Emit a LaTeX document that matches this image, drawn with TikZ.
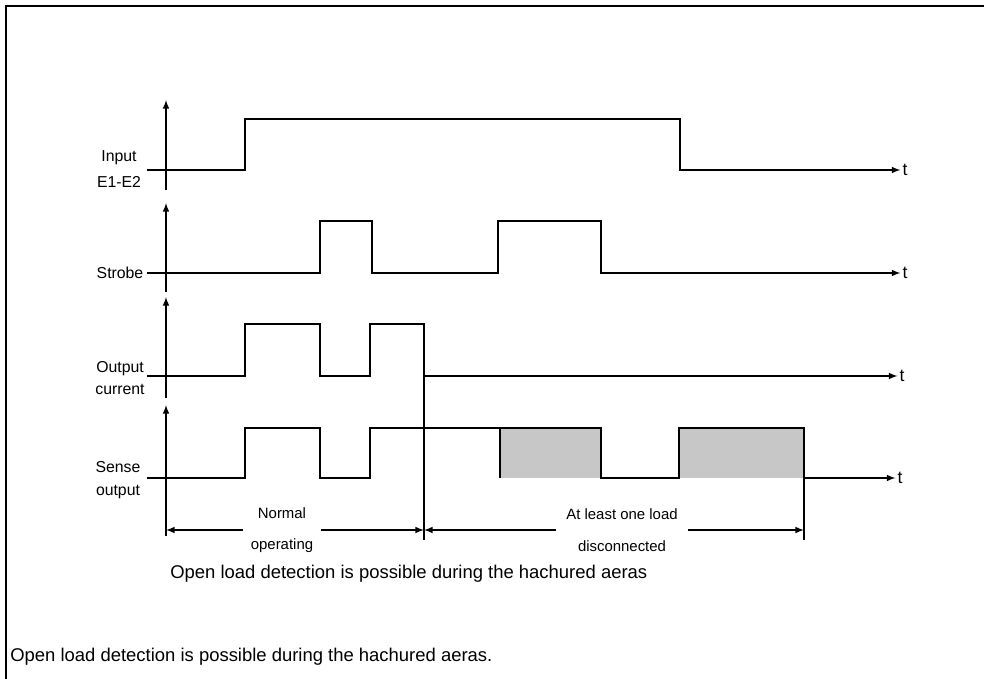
\documentclass[tikz,border=0pt]{standalone}
\usepackage{fontspec}
\setmainfont{Liberation Sans}
\usepackage{tikz}

\begin{document}
\begin{tikzpicture}[>=latex, x=0.02cm, y=-0.02cm,
    wave/.style={line width=1.6pt, line join=miter},
    axis/.style={line width=0.7pt},
    hach/.style={fill=black!22},
    sig/.style={align=center, font=\fontsize{9}{13}\selectfont},
    dim/.style={align=center, inner sep=0pt, font=\fontsize{8.5}{18}\selectfont}]
  \useasboundingbox (0,0) rectangle (984,679);
  \draw [line width=0.6pt] (6,679) -- (6,6) -- (984,6);

  % signal names
  \node (lin) at (119,169) [sig, font=\fontsize{9}{15}\selectfont] {Input\\E1-E2} ;
  \node (lst) at (120,273) [sig] {Strobe} ;
  \node (lout) at (120,378) [sig] {Output\\current} ;
  \node (lsen) at (118,480) [sig] {Sense\\output} ;

  % vertical axes
  \coordinate (a1b) at (166,190) ; \coordinate (a1t) at (166,100) ;
  \coordinate (a2b) at (166,292) ; \coordinate (a2t) at (166,203) ;
  \coordinate (a3b) at (166,398) ; \coordinate (a3t) at (166,297) ;
  \coordinate (a4b) at (166,536) ; \coordinate (a4t) at (166,405) ;
  \draw [->, axis] (a1b) -- (a1t);
  \draw [->, axis] (a2b) -- (a2t);
  \draw [->, axis] (a3b) -- (a3t);
  \draw [->, axis] (a4b) -- (a4t);

  % time axes
  \node (t1) at (905,170) [inner sep=1pt] {t} ;
  \node (t2) at (905,273) [inner sep=1pt] {t} ;
  \node (t3) at (902,376) [inner sep=1pt] {t} ;
  \node (t4) at (900,478) [inner sep=1pt] {t} ;

  % hachured areas
  \fill [hach] (500,428) rectangle (601,478);
  \fill [hach] (679,428) rectangle (804,478);

  % waveforms
  \draw [wave] (147,170) -- (245,170) -- (245,119) -- (680,119) -- (680,170) -- (870,170) coordinate (e1);
  \draw [wave] (147,273) -- (320,273) -- (320,221) -- (372,221) -- (372,273) -- (498,273)
    -- (498,221) -- (601,221) -- (601,273) -- (870,273) coordinate (e2);
  \draw [wave] (147,376) -- (245,376) -- (245,324) -- (320,324) -- (320,376) -- (370,376)
    -- (370,324) -- (424,324) -- (424,376) -- (870,376) coordinate (e3);
  \draw [wave] (147,478) -- (245,478) -- (245,428) -- (320,428) -- (320,478) -- (370,478)
    -- (370,428) -- (601,428) -- (601,478) -- (679,478) -- (679,428) -- (804,428)
    -- (804,478) -- (870,478) coordinate (e4);
  \draw [wave] (500,428) -- (500,478);

  \draw [->, axis] (e1) -- (t1);
  \draw [->, axis] (e2) -- (t2);
  \draw [->, axis] (e3) -- (t3);
  \draw [->, axis] (e4) -- (t4);

  % dimension lines
  \coordinate (dl) at (166,530) ;
  \coordinate (dm) at (424,530) ;
  \coordinate (dr) at (804,530) ;
  \draw [axis] (424,376) -- (424,540);
  \draw [axis] (804,478) -- (804,540);
  \node (norm) at (282,530) [dim, minimum width=44pt] {Normal\\operating} ;
  \node (disc) at (622,530) [dim, minimum width=75pt] {At least one load\\disconnected} ;
  \draw [<-, axis] (dl) -- (norm.west);
  \draw [->, axis] (norm.east) -- (dm);
  \draw [<-, axis] (dm) -- (disc.west);
  \draw [->, axis] (disc.east) -- (dr);

  % notes
  \node (note) at (170,574) [anchor=west, inner sep=0pt, font=\fontsize{10.5}{12}\selectfont] {Open load detection is possible during the hachured aeras} ;
  \node (capt) at (10,657) [anchor=west, inner sep=0pt, font=\fontsize{10.5}{12}\selectfont] {Open load detection is possible during the hachured aeras.} ;
\end{tikzpicture}
\end{document}
